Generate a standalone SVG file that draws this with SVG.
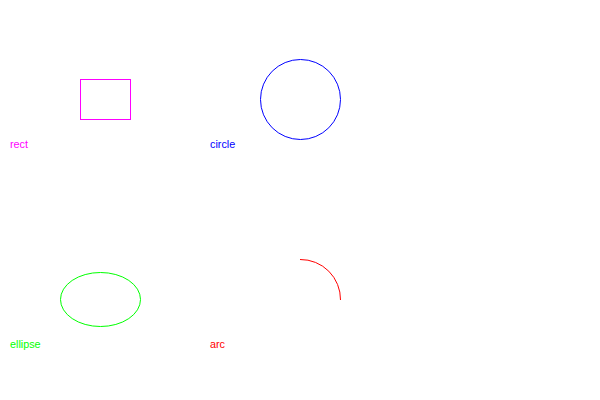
<svg xmlns="http://www.w3.org/2000/svg" width="600" height="400" viewBox="0 0 600 400">
<style>
.s{fill:none;stroke-width:1}
.t{font-family:"Liberation Sans",Arial,sans-serif;font-size:10.8px}
</style>
<rect width="600" height="400" fill="#fff"/>
<g id="rect">
<rect class="s" x="80.5" y="79.5" width="50" height="40" stroke="#ff00ff"/>
<text class="t" x="10" y="148" fill="#ff00ff">rect</text>
</g>
<g id="circle">
<circle class="s" cx="300.5" cy="99.5" r="40" stroke="#0000ff"/>
<text class="t" x="210" y="148" fill="#0000ff">circle</text>
</g>
<g id="ellipse">
<ellipse class="s" cx="100.5" cy="299.5" rx="40" ry="27" stroke="#00ff00"/>
<text class="t" x="10" y="348" fill="#00ff00">ellipse</text>
</g>
<g id="arc">
<path class="s" d="M300,259.5 A40,40 0 0 1 340.5,300" stroke="#ff0000"/>
<text class="t" x="210" y="348" fill="#ff0000">arc</text>
</g>
<g id="connectors"/>
</svg>
